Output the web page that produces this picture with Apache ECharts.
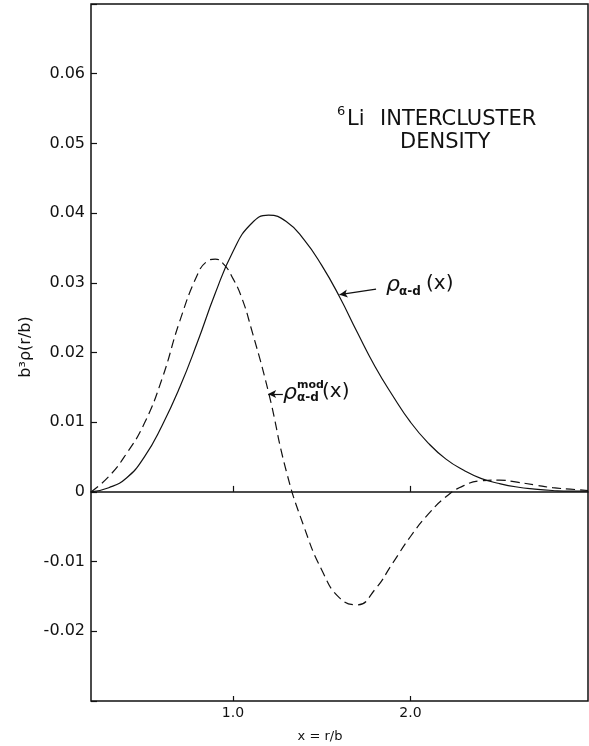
<!DOCTYPE html>
<html>
<head>
<meta charset="utf-8">
<script src="https://cdn.jsdelivr.net/npm/echarts@6/dist/echarts.min.js"></script>
<style>html,body{margin:0;padding:0;background:#fff;}#c{width:589px;height:746px;}</style>
</head>
<body>
<div id="c"></div>
<script>
// x = r/b sample positions and b^3 rho values
const solidX = [0.2, 0.3, 0.4, 0.5, 0.6, 0.7, 0.8, 0.9, 1.0, 1.1, 1.2, 1.3, 1.4, 1.5, 1.6, 1.7, 1.8, 1.9, 2.0, 2.1, 2.2, 2.3, 2.4, 2.5, 2.6, 2.7, 2.8, 2.9, 3.0];
const solidY = [0, 0.0006, 0.0020, 0.0050, 0.0095, 0.0150, 0.0215, 0.0285, 0.0345, 0.0384, 0.0397, 0.0388, 0.0362, 0.0325, 0.0280, 0.0229, 0.0180, 0.0138, 0.0100, 0.0070, 0.0047, 0.0031, 0.0019, 0.0012, 0.0007, 0.0004, 0.0002, 0.0001, 0.0001];
const dashX = [0.2, 0.3, 0.4, 0.5, 0.6, 0.7, 0.8, 0.85, 0.9, 0.95, 1.0, 1.05, 1.1, 1.2, 1.3, 1.4, 1.5, 1.6, 1.7, 1.8, 1.9, 2.0, 2.1, 2.2, 2.3, 2.4, 2.5, 2.6, 2.7, 2.8, 2.9, 3.0];
const dashY = [0, 0.0022, 0.0055, 0.0098, 0.0162, 0.0245, 0.0312, 0.0330, 0.0334, 0.0326, 0.0306, 0.0278, 0.0237, 0.0143, 0.0030, -0.0050, -0.0112, -0.0152, -0.0162, -0.0140, -0.0102, -0.0064, -0.0032, -0.0007, 0.0009, 0.0016, 0.0017, 0.0014, 0.0010, 0.0006, 0.0004, 0.0002];
const xTicks = [1.0, 2.0];
const yLabelTicks = [-0.02, -0.01, 0, 0.01, 0.02, 0.03, 0.04, 0.05, 0.06];
// annotation arrows (label end -> curve end), in data units
const arrowSolid = [[1.806, 0.0291], [1.600, 0.0283]];
const arrowDash = [[1.281, 0.01405], [1.198, 0.01405]];

const F = 'DejaVu Sans';
const chart = echarts.init(document.getElementById('c'), null, {renderer: 'canvas'});
const zip = (a, b) => a.map((v, i) => [v, b[i]]);

chart.setOption({
  animation: false,
  backgroundColor: '#fff',
  grid: {left: 91, right: 1, top: 4, bottom: 45, show: true, borderColor: '#111', borderWidth: 1.5},
  xAxis: [{
    type: 'value', min: 0.2, max: 3.0, position: 'bottom',
    axisLine: {show: false, onZero: false},
    splitLine: {show: false},
    axisTick: {show: true, inside: true, length: 5, customValues: xTicks, lineStyle: {color: '#111', width: 1.2}},
    axisLabel: {show: true, customValues: xTicks, margin: 5, color: '#111', fontFamily: F, fontSize: 14,
      formatter: v => v.toFixed(1)}
  }, {
    type: 'value', min: 0.2, max: 3.0, position: 'bottom',
    axisLine: {show: true, onZero: true, lineStyle: {color: '#111', width: 1.5}},
    splitLine: {show: false},
    axisTick: {show: true, inside: true, length: 6, customValues: xTicks, lineStyle: {color: '#111', width: 1.2}},
    axisLabel: {show: false}
  }],
  yAxis: {
    type: 'value', min: -0.03, max: 0.07, interval: 0.01,
    axisLine: {show: false},
    splitLine: {show: false},
    axisTick: {show: true, inside: true, length: 6, lineStyle: {color: '#111', width: 1.2}},
    axisLabel: {margin: 6, color: '#111', fontFamily: F, fontSize: 16,
      formatter: v => {
        const r = Math.round(v * 100) / 100;
        if (!yLabelTicks.some(t => Math.abs(t - r) < 1e-9)) return '';
        return r === 0 ? '0' : r.toFixed(2);
      }}
  },
  series: [{
    type: 'line', xAxisIndex: 0, data: zip(solidX, solidY), smooth: 0.5, showSymbol: false,
    lineStyle: {color: '#111', width: 1.2},
    markLine: {silent: true, symbol: ['none', 'arrow'], symbolSize: [6, 8], label: {show: false},
      lineStyle: {color: '#111', width: 1.2, type: 'solid'},
      data: [[{coord: arrowSolid[0]}, {coord: arrowSolid[1]}]]}
  }, {
    type: 'line', xAxisIndex: 0, data: zip(dashX, dashY), smooth: 0.5, showSymbol: false,
    lineStyle: {color: '#111', width: 1.2, type: [9, 5]},
    markLine: {silent: true, symbol: ['none', 'arrow'], symbolSize: [6, 8], label: {show: false},
      lineStyle: {color: '#111', width: 1.2, type: 'solid'},
      data: [[{coord: arrowDash[0]}, {coord: arrowDash[1]}]]}
  }],
  graphic: [
    {type: 'text', x: 337, y: 105, style: {text: '6', font: '13px "DejaVu Sans"', fill: '#111'}},
    {type: 'text', x: 347, y: 109, style: {text: 'Li', font: '21px "DejaVu Sans"', fill: '#111'}},
    {type: 'text', x: 380, y: 109, style: {text: 'INTERCLUSTER', font: '21px "DejaVu Sans"', fill: '#111'}},
    {type: 'text', x: 400, y: 132, style: {text: 'DENSITY', font: '21px "DejaVu Sans"', fill: '#111'}},
    // rho_{alpha-d}(x)
    {type: 'text', x: 386, y: 274, style: {text: 'ρ', font: 'italic 22px "DejaVu Sans"', fill: '#111'}},
    {type: 'text', x: 399, y: 286, style: {text: 'α-d', font: 'bold 12px "DejaVu Sans"', fill: '#111'}},
    {type: 'text', x: 426, y: 274, style: {text: '(x)', font: '20px "DejaVu Sans"', fill: '#111'}},
    // rho^{mod}_{alpha-d}(x)
    {type: 'text', x: 283, y: 382, style: {text: 'ρ', font: 'italic 22px "DejaVu Sans"', fill: '#111'}},
    {type: 'text', x: 297, y: 380, style: {text: 'mod', font: 'bold 11px "DejaVu Sans"', fill: '#111'}},
    {type: 'text', x: 297, y: 392, style: {text: 'α-d', font: 'bold 12px "DejaVu Sans"', fill: '#111'}},
    {type: 'text', x: 322, y: 382, style: {text: '(x)', font: '20px "DejaVu Sans"', fill: '#111'}},
    // axis names
    {type: 'text', x: 320, y: 737, style: {text: 'x = r/b', font: '13px "DejaVu Sans"', fill: '#111', align: 'center', verticalAlign: 'middle'}},
    {type: 'text', x: 26, y: 347, rotation: Math.PI / 2, style: {text: 'b³ρ(r/b)', font: '16px "DejaVu Sans"', fill: '#111', align: 'center', verticalAlign: 'middle'}}
  ]
});
</script>
</body>
</html>
